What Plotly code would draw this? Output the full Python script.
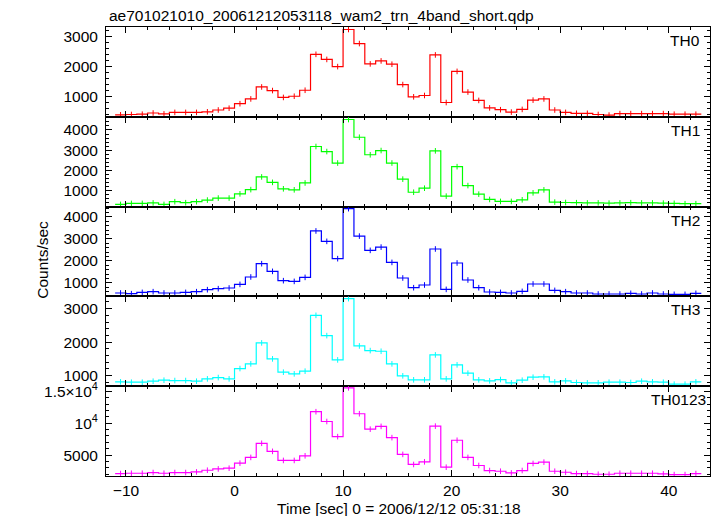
import plotly.graph_objects as go
from plotly.subplots import make_subplots

# ---- data (counts/sec, 1-s bins starting at bin_start) ----
bin_start = list(range(-11, 43))
bin_width = 1.0

th0 = [400, 410, 420, 460, 430, 480, 480, 480, 500, 560, 620, 770, 930, 1330, 1210, 980, 1020, 1220,
       2420, 2250, 2010, 3250, 2780, 2100, 2200, 2090, 1410, 1000, 1045, 2400, 810, 1850, 1160, 880,
       630, 570, 490, 580, 890, 930, 560, 480, 450, 450, 410, 390, 440, 440, 440, 440, 440, 420, 420, 420]
th1 = [305, 355, 355, 380, 305, 440, 390, 440, 520, 620, 620, 830, 1040, 1670, 1400, 1080, 1030, 1370,
       3180, 2930, 2360, 4520, 3640, 2770, 2980, 2360, 1560, 910, 1110, 2965, 716, 2180, 1240, 815,
       552, 453, 453, 535, 880, 1028, 420, 400, 390, 380, 380, 370, 380, 390, 380, 380, 370, 360, 340, 340]
th2 = [546, 514, 573, 605, 546, 546, 573, 605, 696, 741, 773, 937, 1273, 1877, 1528, 1105, 1073, 1255,
       3364, 2891, 2105, 4377, 3130, 2482, 2630, 1936, 1227, 786, 909, 2545, 710, 1909, 1136, 786,
       591, 573, 546, 618, 955, 955, 664, 605, 546, 546, 500, 500, 500, 530, 500, 546, 500, 485, 485, 530]
th3 = [812, 800, 800, 830, 860, 850, 850, 830, 900, 940, 900, 1209, 1349, 1976, 1498, 1100, 1050, 1130,
       2800, 2194, 1468, 3300, 1885, 1746, 1726, 1349, 991, 872, 872, 1617, 900, 1319, 1070, 872,
       841, 880, 782, 860, 950, 960, 812, 841, 792, 782, 782, 800, 800, 792, 830, 812, 800, 741, 741, 812]
th0123 = [2115, 2163, 2163, 2273, 2163, 2273, 2273, 2368, 2636, 2842, 2952, 3742, 4642, 6852, 5589, 4168,
          4168, 4894, 11795, 10263, 7895, 15537, 11479, 9063, 9500, 7737, 5116, 3537, 3947, 9537, 3110,
          7326, 4642, 3379, 2589, 2479, 2210, 2589, 3695, 3900, 2479, 2321, 2115, 2115, 2005, 2005, 2163,
          2163, 2163, 2163, 2060, 1953, 1953, 2115]

series = [("TH0", th0, "#ff0000"), ("TH1", th1, "#00ff00"), ("TH2", th2, "#0000ff"),
          ("TH3", th3, "#00ffff"), ("TH0123", th0123, "#ff00ff")]

y_ranges = [[333, 3333], [197, 4655], [391, 4470], [681, 3367], [1732, 15790]]
y_ticks = [[1000, 2000, 3000], [1000, 2000, 3000, 4000], [1000, 2000, 3000, 4000],
           [1000, 2000, 3000], [5000, 10000, 15000]]
y_ticktext = [["1000", "2000", "3000"], ["1000", "2000", "3000", "4000"],
              ["1000", "2000", "3000", "4000"], ["1000", "2000", "3000"],
              ["5000", "10<sup>4</sup>", "1.5×10<sup>4</sup>"]]
y_minor = [200, 200, 200, 200, 1000]

x_range = [-11.84, 43.8]
title_text = "ae701021010_20061212053118_wam2_trn_4band_short.qdp"
x_title = "Time [sec] 0 = 2006/12/12 05:31:18"
y_title = "Counts/sec"

FONT = "Liberation Sans, Arial, Helvetica, sans-serif"
FS = 15.5

fig = make_subplots(rows=5, cols=1, shared_xaxes=True, vertical_spacing=0)

edges = bin_start + [bin_start[-1] + bin_width]
centers = [b + bin_width / 2 for b in bin_start]

for i, (name, vals, col) in enumerate(series):
    r = i + 1
    fig.add_trace(go.Scatter(x=edges, y=vals + [vals[-1]], mode="lines",
                             line=dict(color=col, width=1.2, shape="hv"),
                             hoverinfo="skip", showlegend=False, cliponaxis=True), row=r, col=1)
    fig.add_trace(go.Scatter(x=centers, y=vals, mode="markers", cliponaxis=True,
                             marker=dict(symbol="line-ns-open", size=4, color=col,
                                         line=dict(color=col, width=1)),
                             showlegend=False, name=name), row=r, col=1)
    fig.update_yaxes(range=y_ranges[i], tickvals=y_ticks[i], ticktext=y_ticktext[i],
                     ticks="inside", ticklen=6, tickcolor="black", tickwidth=1,
                     showline=True, linecolor="black", linewidth=1, mirror="ticks",
                     minor=dict(dtick=y_minor[i], ticks="inside", ticklen=3,
                                tickcolor="black", tickwidth=1, showgrid=False),
                     showgrid=False, zeroline=False,
                     tickfont=dict(family=FONT, size=FS, color="black"),
                     ticklabelstandoff=4,
                     row=r, col=1)
    fig.update_xaxes(range=x_range, dtick=10, tick0=0,
                     ticks="inside", ticklen=6, tickcolor="black", tickwidth=1,
                     showline=True, linecolor="black", linewidth=1, mirror="ticks",
                     minor=dict(dtick=2, ticks="inside", ticklen=3,
                                tickcolor="black", tickwidth=1, showgrid=False),
                     showgrid=False, zeroline=False,
                     showticklabels=(r == 5),
                     tickfont=dict(family=FONT, size=FS, color="black"),
                     ticklabelstandoff=0,
                     row=r, col=1)
    yref = "y domain" if r == 1 else f"y{r} domain"
    fig.add_annotation(text=name, xref="paper", yref=yref,
                       x=(702 - 106) / 604 if r < 5 else (708 - 106) / 604, y=1,
                       xanchor="right", yanchor="top", yshift=-3, showarrow=False,
                       font=dict(family=FONT, size=FS, color="black"))

W, H = 717, 516
L, R, T, B = 106, 7, 27, 40
pw, ph = W - L - R, H - T - B

fig.add_annotation(text=title_text, xref="paper", yref="paper",
                   x=(107 - L) / pw, y=(H - B - 15) / ph,
                   showarrow=False, xanchor="left", yanchor="middle",
                   font=dict(family=FONT, size=FS, color="black"))
fig.add_annotation(text=x_title, xref="paper", yref="paper",
                   x=(398.5 - L) / pw, y=-(508 - (H - B)) / ph,
                   showarrow=False, xanchor="center", yanchor="middle",
                   font=dict(family=FONT, size=FS, color="black"))
fig.add_annotation(text=y_title, xref="paper", yref="paper",
                   x=(41.7 - L) / pw, y=(H - B - 260) / ph, textangle=-90,
                   showarrow=False, xanchor="center", yanchor="middle",
                   font=dict(family=FONT, size=FS, color="black"))

fig.update_layout(width=W, height=H, margin=dict(l=L, r=R, t=T, b=B),
                  paper_bgcolor="white", plot_bgcolor="white",
                  font=dict(family=FONT, size=FS, color="black"),
                  showlegend=False)

fig.write_html("out.html", config={"displayModeBar": False},
               post_script="document.body.style.margin='0';document.body.style.padding='0';")
